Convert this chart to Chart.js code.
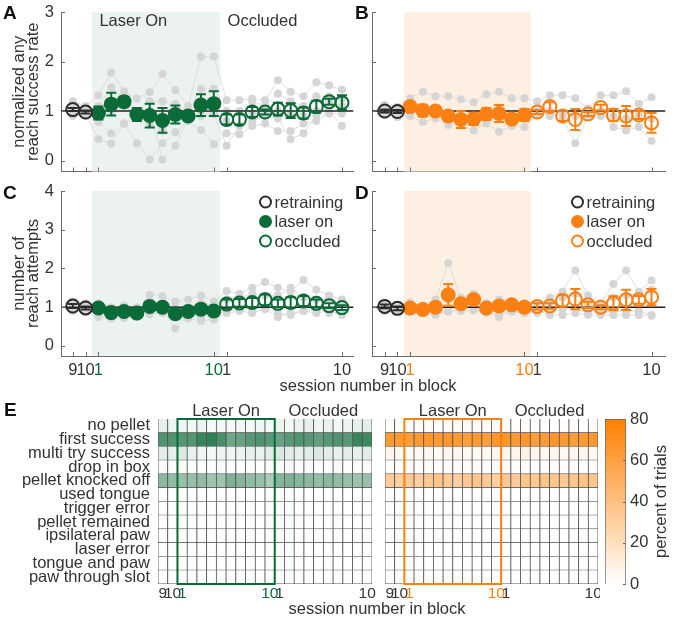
<!DOCTYPE html>
<html>
<head>
<meta charset="utf-8">
<script src="https://cdn.jsdelivr.net/npm/chart.js@4.4.1/dist/chart.umd.min.js"></script>
<style>
  body { margin: 0; background: #fff; }
  #fig { position: relative; width: 674px; height: 618px; font-family: "Liberation Sans", Arial, Helvetica, sans-serif; color: #333; overflow: hidden; }
  #fig canvas { position: absolute; }
  .lbl { position: absolute; white-space: nowrap; }
  .letter { font-weight: bold; font-size: 19px; color: #111; }
  .xlab { font-size: 16.5px; transform: translateX(-50%); }
</style>
</head>
<body>
<div id="fig">
  <canvas id="cA" width="362" height="180" style="left:0;top:0"></canvas>
  <canvas id="cB" width="312" height="180" style="left:362px;top:0"></canvas>
  <canvas id="cC" width="362" height="210" style="left:0;top:180px"></canvas>
  <canvas id="cD" width="312" height="210" style="left:362px;top:180px"></canvas>
  <canvas id="cE1" width="380" height="223" style="left:0;top:395px"></canvas>
  <canvas id="cE2" width="220" height="223" style="left:380px;top:395px"></canvas>
  <canvas id="cBar" width="74" height="223" style="left:600px;top:395px"></canvas>
  <div class="lbl letter" style="left:3px;top:2px">A</div>
  <div class="lbl letter" style="left:355px;top:2px">B</div>
  <div class="lbl letter" style="left:3px;top:182px">C</div>
  <div class="lbl letter" style="left:355px;top:182px">D</div>
  <div class="lbl letter" style="left:4px;top:399px">E</div>
  <div class="lbl xlab" style="left:368px;top:376px">session number in block</div>
  <div class="lbl xlab" style="left:377px;top:599px">session number in block</div>
</div>
<script>
// sessions: retraining 9,10 | laser on 1..10 | occluded 1..10
const sessions = ['9', '10', '1', '2', '3', '4', '5', '6', '7', '8', '9', '10', '1', '2', '3', '4', '5', '6', '7', '8', '9', '10'];
const tickIdx = [0, 1, 2, 11, 12, 21];
const refLevel = 1;

// A: normalized any reach success rate (green group)
const aMean = [1.03, 0.98, 0.96, 1.14, 1.19, 0.93, 0.91, 0.81, 0.93, 0.90, 1.12, 1.15, 0.83, 0.83, 0.98, 0.98, 1.04, 1.01, 0.96, 1.09, 1.19, 1.17];
const aErr = [0.03, 0.03, 0.13, 0.23, 0.10, 0.13, 0.24, 0.25, 0.18, 0.05, 0.22, 0.25, 0.10, 0.10, 0.10, 0.05, 0.13, 0.15, 0.11, 0.12, 0.06, 0.15];
const aAnimal1 = [1.20, 1.10, 1.32, 1.78, 1.40, 1.25, 1.38, 1.75, 1.42, 1.10, 2.10, 2.10, 1.22, 1.22, 1.25, 1.22, 1.62, 1.39, 1.30, 1.58, 1.52, 1.43];
const aAnimal2 = [1.05, 1.00, 1.10, 1.48, 1.25, 0.95, 1.20, 1.20, 1.15, 1.00, 1.45, 1.45, 1.00, 1.00, 1.20, 1.10, 1.35, 1.20, 1.10, 1.30, 1.30, 1.25];
const aAnimal3 = [0.95, 0.95, 0.90, 1.00, 1.10, 0.90, 0.75, 0.60, 0.95, 0.95, 1.00, 0.95, 0.80, 0.70, 0.95, 0.95, 1.00, 0.95, 0.90, 1.00, 1.20, 1.10];
const aAnimal4 = [0.90, 0.90, 0.78, 0.55, 0.75, 0.35, 0.02, 0.35, 0.57, 0.80, 0.62, 0.33, 0.55, 0.53, 0.70, 0.75, 0.60, 0.60, 0.75, 0.80, 0.95, 0.95];
const aAnimal5 = [1.00, 0.95, 0.43, 0.34, 0.75, 0.90, 1.00, 0.02, 0.30, 0.85, 0.90, 0.95, 0.30, 0.70, 0.80, 0.90, 0.85, 0.43, 0.55, 0.90, 1.00, 0.70];

// B: normalized any reach success rate (orange group)
const bMean = [1.00, 0.99, 1.09, 1.01, 1.00, 0.90, 0.83, 0.84, 0.94, 0.95, 0.84, 0.92, 0.98, 1.09, 0.90, 0.83, 0.94, 1.07, 0.92, 0.90, 0.92, 0.76];
const bErr = [0.03, 0.03, 0.04, 0.12, 0.04, 0.10, 0.17, 0.12, 0.12, 0.17, 0.10, 0.12, 0.04, 0.09, 0.10, 0.21, 0.04, 0.06, 0.12, 0.20, 0.08, 0.20];
const bAnimal1 = [1.13, 1.08, 1.26, 1.39, 1.30, 1.30, 1.24, 1.18, 1.34, 1.39, 1.26, 1.26, 1.20, 1.32, 1.32, 1.26, 1.05, 1.32, 1.32, 1.40, 1.15, 1.28];
const bAnimal2 = [0.95, 0.90, 0.97, 1.00, 0.97, 0.95, 0.85, 0.90, 0.95, 0.90, 0.85, 0.90, 1.00, 0.90, 0.95, 0.90, 0.95, 0.90, 0.90, 0.85, 0.92, 0.85];
const bAnimal3 = [0.92, 0.88, 0.90, 0.78, 0.85, 0.72, 0.71, 0.61, 0.75, 0.58, 0.70, 0.68, 0.93, 1.00, 0.85, 0.35, 0.88, 1.00, 0.68, 0.61, 0.68, 0.40];

// C: number of reach attempts (green group)
const cMean = [1.03, 0.98, 0.98, 0.86, 0.89, 0.85, 1.02, 1.00, 0.83, 0.89, 0.95, 0.90, 1.08, 1.11, 1.12, 1.19, 1.10, 1.12, 1.16, 1.10, 1.04, 0.99];
const cErr = [0.05, 0.04, 0.03, 0.03, 0.03, 0.03, 0.03, 0.03, 0.03, 0.03, 0.03, 0.03, 0.12, 0.10, 0.12, 0.14, 0.10, 0.14, 0.13, 0.10, 0.06, 0.06];
const cAnimal1 = [1.15, 1.10, 1.10, 1.00, 1.05, 1.00, 1.32, 1.28, 1.15, 1.20, 1.30, 1.15, 1.42, 1.35, 1.50, 1.65, 1.50, 1.40, 1.70, 1.45, 1.30, 1.20];
const cAnimal2 = [1.00, 0.95, 1.00, 0.90, 0.95, 0.90, 1.15, 1.10, 1.00, 1.00, 1.10, 1.05, 1.20, 1.25, 1.35, 1.30, 1.30, 1.50, 1.25, 1.20, 1.20, 1.10];
const cAnimal3 = [0.95, 0.90, 0.85, 0.80, 0.80, 0.85, 0.90, 0.95, 0.45, 0.85, 0.75, 0.80, 0.90, 0.95, 0.95, 1.00, 0.85, 0.80, 0.90, 0.95, 0.85, 0.85];
const cAnimal4 = [0.90, 0.88, 0.75, 0.70, 0.72, 0.75, 0.82, 0.85, 0.75, 0.70, 0.65, 0.68, 0.85, 0.90, 0.85, 0.95, 0.75, 0.85, 0.90, 0.85, 0.90, 0.80];

// D: number of reach attempts (orange group)
const dMean = [1.02, 0.97, 0.98, 0.94, 1.00, 1.32, 1.09, 1.20, 0.98, 1.03, 1.06, 1.00, 1.02, 1.03, 1.17, 1.21, 1.06, 1.00, 1.10, 1.19, 1.19, 1.26];
const dErr = [0.05, 0.05, 0.03, 0.03, 0.03, 0.28, 0.03, 0.05, 0.03, 0.03, 0.03, 0.03, 0.08, 0.07, 0.15, 0.26, 0.08, 0.05, 0.18, 0.26, 0.10, 0.21];
const dAnimal1 = [1.10, 1.05, 1.12, 1.05, 1.20, 2.14, 1.25, 1.35, 1.10, 1.20, 1.15, 1.10, 1.10, 1.25, 1.40, 1.95, 1.30, 1.10, 1.60, 1.95, 1.40, 1.69];
const dAnimal2 = [0.98, 0.95, 1.00, 0.98, 1.10, 1.20, 1.10, 1.25, 0.98, 1.05, 1.00, 1.00, 1.00, 1.10, 1.25, 1.35, 1.10, 1.00, 1.25, 1.30, 1.35, 1.45];
const dAnimal3 = [0.95, 0.90, 0.88, 0.85, 0.80, 0.90, 0.90, 0.92, 0.85, 0.80, 0.88, 0.85, 0.85, 0.90, 0.95, 0.95, 0.85, 0.85, 0.90, 0.90, 0.90, 0.80];
const dAnimal4 = [0.90, 0.88, 0.92, 0.90, 0.88, 0.88, 0.95, 1.00, 0.90, 0.75, 0.95, 0.90, 0.90, 0.80, 0.80, 0.85, 0.80, 0.80, 0.80, 0.80, 0.80, 0.78];

// E: outcome percentages per session
const outcomes = ['no pellet', 'first success', 'multi try success', 'drop in box', 'pellet knocked off', 'used tongue', 'trigger error', 'pellet remained', 'ipsilateral paw', 'laser error', 'tongue and paw', 'paw through slot'];
const heatGreen = [
  [8, 6, 5, 4, 6, 3, 4, 3, 4, 3, 5, 3, 6, 4, 7, 8, 5, 7, 4, 6, 8, 9],
  [58, 58, 56, 57, 66, 68, 60, 48, 50, 55, 58, 55, 50, 55, 58, 55, 52, 56, 58, 55, 66, 64],
  [10, 8, 12, 7, 5, 4, 6, 5, 6, 8, 7, 10, 12, 10, 8, 10, 12, 10, 8, 10, 8, 10],
  [2, 1, 2, 1, 1, 1, 2, 1, 1, 1, 1, 1, 1, 2, 1, 2, 1, 1, 2, 1, 1, 2],
  [38, 36, 34, 34, 36, 32, 32, 42, 40, 36, 34, 28, 40, 42, 40, 38, 36, 38, 36, 34, 32, 34],
  [0, 0, 0, 0, 0, 0, 0, 0, 0, 0, 0, 0, 0, 0, 0, 0, 0, 0, 0, 0, 0, 0],
  [0, 0, 0, 0, 0, 0, 0, 0, 0, 0, 0, 0, 0, 0, 0, 0, 0, 0, 0, 0, 0, 0],
  [1, 0, 1, 0, 0, 0, 1, 0, 0, 0, 0, 1, 0, 0, 1, 0, 0, 0, 1, 0, 0, 0],
  [0, 0, 0, 0, 0, 0, 0, 0, 0, 0, 0, 0, 0, 0, 0, 0, 0, 0, 0, 0, 0, 0],
  [0, 0, 0, 0, 0, 0, 0, 0, 0, 0, 0, 0, 0, 0, 0, 0, 0, 0, 0, 0, 0, 0],
  [0, 0, 0, 0, 0, 0, 0, 0, 0, 0, 0, 0, 0, 0, 0, 0, 0, 0, 0, 0, 0, 0],
  [0, 0, 0, 0, 0, 0, 0, 0, 0, 0, 0, 0, 0, 0, 0, 0, 0, 0, 0, 0, 0, 0]
];
const heatOrange = [
  [2, 1, 1, 1, 2, 1, 1, 2, 1, 1, 1, 2, 1, 1, 2, 1, 1, 1, 2, 1, 1, 1],
  [64, 64, 62, 64, 66, 64, 66, 64, 62, 64, 62, 66, 66, 64, 66, 62, 64, 66, 64, 62, 64, 66],
  [6, 4, 3, 4, 5, 3, 6, 5, 4, 3, 4, 5, 5, 6, 8, 6, 5, 6, 4, 5, 6, 4],
  [2, 1, 2, 1, 2, 1, 2, 2, 1, 2, 1, 1, 2, 1, 2, 1, 2, 1, 2, 1, 1, 2],
  [32, 30, 34, 30, 34, 36, 32, 30, 34, 36, 34, 30, 34, 32, 36, 34, 38, 36, 34, 36, 38, 36],
  [0, 0, 0, 0, 0, 0, 0, 0, 0, 0, 0, 0, 0, 0, 0, 0, 0, 0, 0, 0, 0, 0],
  [0, 0, 0, 0, 0, 0, 0, 0, 0, 0, 0, 0, 0, 0, 0, 0, 0, 0, 0, 0, 0, 0],
  [0, 0, 0, 0, 0, 0, 0, 0, 0, 0, 0, 0, 0, 0, 0, 0, 0, 0, 0, 0, 0, 0],
  [0, 0, 0, 0, 0, 0, 0, 0, 0, 0, 0, 0, 0, 0, 0, 0, 0, 0, 0, 0, 0, 0],
  [0, 0, 0, 0, 0, 0, 0, 0, 0, 0, 0, 0, 0, 0, 0, 0, 0, 0, 0, 0, 0, 0],
  [0, 0, 0, 0, 0, 0, 0, 0, 0, 0, 0, 0, 0, 0, 0, 0, 0, 0, 0, 0, 0, 0],
  [0, 0, 0, 0, 0, 0, 0, 0, 0, 0, 0, 0, 0, 0, 0, 0, 0, 0, 0, 0, 0, 0]
];
const colorbarTicks = [0, 20, 40, 60, 80];

const FONT = '"Liberation Sans", Arial, Helvetica, sans-serif';
const TXT = '#333';
const AXIS = '#6b6b6b';
const GREEN = '#0b6b38';
const ORANGE = '#fb8013';
const GREEN_END = [11, 107, 56];
const ORANGE_END = [255, 128, 0];

Chart.defaults.font.family = FONT;
Chart.defaults.color = TXT;
Chart.defaults.animation = false;
Chart.defaults.plugins.legend.display = false;
Chart.defaults.plugins.tooltip.enabled = false;

function pts(arr, from, to) {
  return arr.slice(from, to).map((v, k) => ({ x: from + k + 1, y: v }));
}

const shadePlugin = {
  id: 'shade',
  beforeDatasetsDraw(chart, args, opts) {
    const { ctx, chartArea: a, scales: { x } } = chart;
    const x0 = x.getPixelForValue(opts.from), x1 = x.getPixelForValue(opts.to);
    ctx.save();
    ctx.fillStyle = opts.color;
    ctx.fillRect(x0, a.top, x1 - x0, a.bottom - a.top);
    ctx.restore();
  }
};

const errorBars = {
  id: 'errorBars',
  afterDatasetsDraw(chart) {
    const { ctx, scales: { x, y } } = chart;
    chart.data.datasets.forEach(ds => {
      if (!ds.errors) return;
      ctx.save();
      ctx.strokeStyle = ds.borderColor;
      ctx.lineWidth = 2;
      ds.data.forEach((p, j) => {
        const px = x.getPixelForValue(p.x), e = ds.errors[j];
        const t = y.getPixelForValue(p.y + e), b = y.getPixelForValue(p.y - e);
        ctx.beginPath();
        ctx.moveTo(px, t); ctx.lineTo(px, b);
        ctx.moveTo(px - 5, t); ctx.lineTo(px + 5, t);
        ctx.moveTo(px - 5, b); ctx.lineTo(px + 5, b);
        ctx.stroke();
      });
      ctx.restore();
    });
  }
};

const innerTicks = {
  id: 'innerTicks',
  afterDraw(chart) {
    const { ctx, chartArea: a, scales: { x, y } } = chart;
    ctx.save();
    ctx.strokeStyle = AXIS;
    ctx.lineWidth = 1;
    ctx.beginPath();
    x.ticks.forEach(t => {
      const p = Math.round(x.getPixelForValue(t.value)) + 0.5;
      ctx.moveTo(p, a.bottom); ctx.lineTo(p, a.bottom - 4);
    });
    y.ticks.forEach(t => {
      const p = Math.round(y.getPixelForValue(t.value)) + 0.5;
      ctx.moveTo(a.left, p); ctx.lineTo(a.left + 4, p);
    });
    ctx.stroke();
    ctx.restore();
  }
};

const phaseText = {
  id: 'phaseText',
  afterDraw(chart, args, opts) {
    if (!opts.items) return;
    const { ctx, chartArea: a, scales: { x } } = chart;
    ctx.save();
    ctx.font = '16.5px ' + FONT;
    ctx.fillStyle = TXT;
    ctx.textBaseline = 'middle';
    opts.items.forEach(it => ctx.fillText(it.text, x.getPixelForValue(it.at) + 1, a.top + 9));
    ctx.restore();
  }
};

const legendBox = {
  id: 'legendBox',
  afterDraw(chart, args, opts) {
    if (!opts.items) return;
    const { ctx, chartArea: a } = chart;
    ctx.save();
    ctx.font = '16.5px ' + FONT;
    ctx.textBaseline = 'middle';
    opts.items.forEach((it, i) => {
      const cy = a.top + 11 + i * 19.5, cx = a.right - 88;
      ctx.beginPath();
      ctx.arc(cx, cy, it.fill ? 6.5 : 5.5, 0, Math.PI * 2);
      if (it.fill) { ctx.fillStyle = it.color; ctx.fill(); }
      else { ctx.lineWidth = 2; ctx.strokeStyle = it.color; ctx.stroke(); }
      ctx.fillStyle = TXT;
      ctx.fillText(it.text, cx + 9, cy + 1);
    });
    ctx.restore();
  }
};

function linePanel(id, cfg) {
  const canvas = document.getElementById(id);
  const grey = cfg.animals.map(a => ({
    data: pts(a, 0, 22), showLine: true, borderColor: '#dedede', borderWidth: 1,
    pointRadius: 4, pointBackgroundColor: '#d5d5d5', pointBorderWidth: 0, order: 2
  }));
  const datasets = [
    { label: 'retraining', data: pts(cfg.mean, 0, 2), errors: cfg.err.slice(0, 2), borderColor: '#2b2b2b',
      backgroundColor: 'rgba(0,0,0,0)', pointRadius: 6.5, pointBorderWidth: 2, order: 0 },
    { label: 'laser on', data: pts(cfg.mean, 2, 12), errors: cfg.err.slice(2, 12), borderColor: cfg.color,
      backgroundColor: cfg.color, pointRadius: 7.5, pointBorderWidth: 0, order: 0 },
    { label: 'occluded', data: pts(cfg.mean, 12, 22), errors: cfg.err.slice(12, 22), borderColor: cfg.color,
      backgroundColor: 'rgba(0,0,0,0)', pointRadius: 6.5, pointBorderWidth: 2, order: 0 },
    { label: 'ref', data: [{ x: cfg.xMin, y: refLevel }, { x: cfg.xMax, y: refLevel }], showLine: true,
      borderColor: '#1f1f1f', borderWidth: 1.4, pointRadius: 0, order: 1 },
    ...grey
  ];
  return new Chart(canvas, {
    type: 'scatter',
    data: { datasets },
    options: {
      responsive: false,
      layout: { padding: { left: 0, top: cfg.top, right: canvas.width - cfg.right, bottom: 0 } },
      scales: {
        x: {
          type: 'linear', min: cfg.xMin, max: cfg.xMax,
          grid: { display: false, drawTicks: false }, border: { display: true, color: AXIS, width: 1 },
          afterBuildTicks: s => { s.ticks = tickIdx.map(i => ({ value: i + 1 })); },
          afterFit: s => { s.height = canvas.height - cfg.bottom; s.paddingLeft = 0; s.paddingRight = 0; },
          ticks: {
            display: cfg.xLabels, padding: 5, maxRotation: 0, autoSkip: false,
            font: { size: 16.5 },
            callback: (v, i) => sessions[tickIdx[i]],
            color: c => (c.index === 2 || c.index === 3) ? cfg.color : TXT
          }
        },
        y: {
          min: cfg.yMin, max: cfg.yMax,
          grid: { display: false, drawTicks: false }, border: { display: true, color: AXIS, width: 1 },
          afterBuildTicks: s => { s.ticks = cfg.yTicks.map(v => ({ value: v })); },
          afterFit: s => { s.width = cfg.left; s.paddingTop = 0; s.paddingBottom = 0; },
          ticks: { display: !!cfg.yTitle, padding: 7, font: { size: 16.5 }, color: TXT },
          title: {
            display: !!cfg.yTitle, text: cfg.yTitle, color: TXT,
            font: { size: 16.5, lineHeight: 0.88 }, padding: { top: 12, bottom: 0 }
          }
        }
      },
      plugins: {
        shade: { from: 2.5, to: 12.5, color: cfg.shade },
        phaseText: { items: cfg.phaseItems },
        legendBox: { items: cfg.legend }
      }
    },
    plugins: [shadePlugin, errorBars, innerTicks, phaseText, legendBox]
  });
}

const greenLegend = [
  { text: 'retraining', color: '#2b2b2b', fill: false },
  { text: 'laser on', color: GREEN, fill: true },
  { text: 'occluded', color: GREEN, fill: false }
];
const orangeLegend = [
  { text: 'retraining', color: '#2b2b2b', fill: false },
  { text: 'laser on', color: ORANGE, fill: true },
  { text: 'occluded', color: ORANGE, fill: false }
];

linePanel('cA', {
  mean: aMean, err: aErr, animals: [aAnimal1, aAnimal2, aAnimal3, aAnimal4, aAnimal5],
  color: GREEN, shade: '#ebf2ef', xMin: 0.08, xMax: 22.9, yMin: -0.22, yMax: 3, yTicks: [0, 1, 2, 3],
  left: 61, right: 358, top: 12, bottom: 175, xLabels: false,
  yTitle: ['normalized any', 'reach success rate'],
  phaseItems: [{ at: 3, text: 'Laser On' }, { at: 13, text: 'Occluded' }]
});
linePanel('cB', {
  mean: bMean, err: bErr, animals: [bAnimal1, bAnimal2, bAnimal3],
  color: ORANGE, shade: '#fdefe1', xMin: 0, xMax: 23.1, yMin: -0.22, yMax: 3, yTicks: [0, 1, 2, 3],
  left: 10, right: 310, top: 12, bottom: 175, xLabels: false
});
linePanel('cC', {
  mean: cMean, err: cErr, animals: [cAnimal1, cAnimal2, cAnimal3, cAnimal4],
  color: GREEN, shade: '#ebf2ef', xMin: 0.08, xMax: 22.9, yMin: -0.26, yMax: 4, yTicks: [0, 1, 2, 3, 4],
  left: 61, right: 358, top: 11, bottom: 176, xLabels: true,
  yTitle: ['number of', 'reach attempts'], legend: greenLegend
});
linePanel('cD', {
  mean: dMean, err: dErr, animals: [dAnimal1, dAnimal2, dAnimal3, dAnimal4],
  color: ORANGE, shade: '#fdefe1', xMin: 0, xMax: 23.1, yMin: -0.26, yMax: 4, yTicks: [0, 1, 2, 3, 4],
  left: 10, right: 310, top: 11, bottom: 176, xLabels: true, legend: orangeLegend
});

// heatmaps
function cmap(v, end) {
  const t = Math.min(Math.max(v / 80, 0), 1);
  const c = end.map(e => Math.round(255 + (e - 255) * t));
  return `rgb(${c[0]},${c[1]},${c[2]})`;
}

const heatFrame = {
  id: 'heatFrame',
  afterDatasetsDraw(chart, args, opts) {
    const { ctx, chartArea: a, scales: { x } } = chart;
    const w = x.width / sessions.length;
    const x0 = x.getPixelForValue(2) - w / 2, x1 = x.getPixelForValue(11) + w / 2;
    const o0 = x.getPixelForValue(12) - w / 2, o1 = x.getPixelForValue(21) + w / 2;
    ctx.save();
    ctx.strokeStyle = opts.color;
    ctx.lineWidth = 2;
    ctx.strokeRect(x0, a.top, x1 - x0, a.bottom - a.top);
    ctx.font = '16.5px ' + FONT;
    ctx.fillStyle = TXT;
    ctx.textAlign = 'center';
    ctx.textBaseline = 'middle';
    ctx.fillText('Laser On', (x0 + x1) / 2, a.top - 8);
    ctx.fillText('Occluded', (o0 + o1) / 2, a.top - 8);
    ctx.restore();
  }
};

function heatPanel(id, heat, end, boxColor, left, right, showRows) {
  const canvas = document.getElementById(id);
  const datasets = outcomes.map((name, r) => ({
    label: name,
    data: sessions.map(() => 1),
    backgroundColor: heat[r].map(v => cmap(v, end)),
    borderColor: '#4d4d4d', borderWidth: 0.75,
    barPercentage: 1, categoryPercentage: 1, stack: 'cells'
  }));
  return new Chart(canvas, {
    type: 'bar',
    data: { labels: sessions, datasets },
    options: {
      responsive: false,
      layout: { padding: { left: 0, top: 24, right: canvas.width - right, bottom: 0 } },
      scales: {
        x: {
          stacked: true, grid: { display: false, drawTicks: false }, border: { display: false },
          afterFit: s => { s.height = canvas.height - 189; s.paddingLeft = 0; s.paddingRight = 0; },
          ticks: {
            autoSkip: false, maxRotation: 0, padding: 0, font: { size: 15.5 },
            callback: (v, i) => tickIdx.includes(i) ? sessions[i] : '',
            color: c => (c.index === 2 || c.index === 11) ? boxColor : TXT
          }
        },
        y: {
          stacked: true, min: 0, max: 12, reverse: true,
          grid: { display: false, drawTicks: false }, border: { display: false },
          afterBuildTicks: s => { s.ticks = outcomes.map((_, i) => ({ value: i + 0.5 })); },
          afterFit: s => { s.width = left; s.paddingTop = 0; s.paddingBottom = 0; },
          ticks: { display: showRows, autoSkip: false, padding: 8, font: { size: 16.5 }, color: TXT,
            callback: (v, i) => outcomes[i] }
        }
      },
      plugins: { heatFrame: { color: boxColor } }
    },
    plugins: [heatFrame]
  });
}

heatPanel('cE1', heatGreen, GREEN_END, GREEN, 158, 372, true);
heatPanel('cE2', heatOrange, ORANGE_END, ORANGE, 5, 218, false);

// colorbar
const barCanvas = document.getElementById('cBar');
new Chart(barCanvas, {
  type: 'bar',
  data: {
    labels: ['percent'],
    datasets: [{
      data: [colorbarTicks[colorbarTicks.length - 1]],
      backgroundColor: c => {
        const a = c.chart.chartArea;
        if (!a) return 'white';
        const g = c.chart.ctx.createLinearGradient(0, a.bottom, 0, a.top);
        g.addColorStop(0, '#ffffff');
        g.addColorStop(1, cmap(80, ORANGE_END));
        return g;
      },
      borderColor: '#666', borderWidth: 1, barPercentage: 1, categoryPercentage: 1
    }]
  },
  options: {
    responsive: false,
    layout: { padding: { left: 5, top: 24, right: 0, bottom: 34 } },
    scales: {
      x: { display: false },
      y: {
        position: 'right', min: 0, max: 80,
        grid: { display: false, drawTicks: false }, border: { display: false },
        afterBuildTicks: s => { s.ticks = colorbarTicks.map(v => ({ value: v })); },
        afterFit: s => { s.width = 48; s.paddingTop = 0; s.paddingBottom = 0; },
        ticks: { padding: 4, font: { size: 16.5 }, color: TXT }
      }
    }
  },
  plugins: [{
    id: 'barLabel',
    afterDraw(chart) {
      const { ctx, chartArea: a, scales: { y } } = chart;
      ctx.save();
      ctx.strokeStyle = AXIS;
      ctx.beginPath();
      y.ticks.forEach(t => {
        const p = Math.round(y.getPixelForValue(t.value)) + 0.5;
        ctx.moveTo(a.right, p); ctx.lineTo(a.right - 3, p);
      });
      ctx.stroke();
      ctx.translate(61, (a.top + a.bottom) / 2);
      ctx.rotate(-Math.PI / 2);
      ctx.font = '16.5px ' + FONT;
      ctx.fillStyle = TXT;
      ctx.textAlign = 'center';
      ctx.textBaseline = 'middle';
      ctx.fillText('percent of trials', 0, 0);
      ctx.restore();
    }
  }]
});
</script>
</body>
</html>
